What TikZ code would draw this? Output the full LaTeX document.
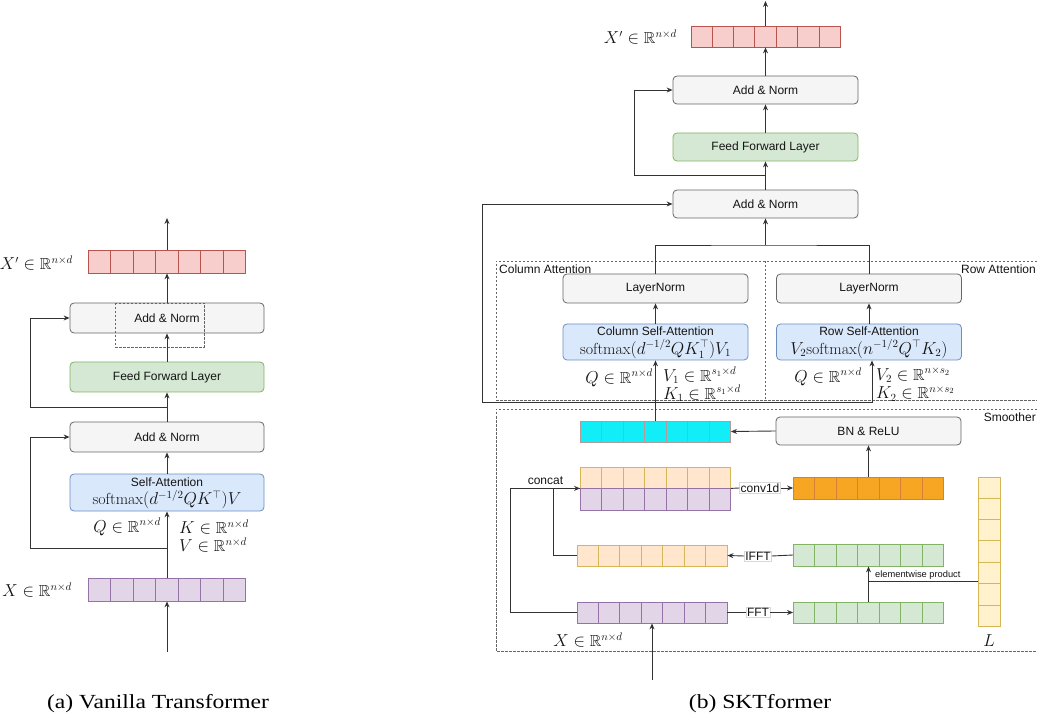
\documentclass[tikz,border=0pt]{standalone}
\usepackage{amsmath,amssymb}
\usepackage{fontspec}
\setsansfont{Liberation Sans}
\newfontfamily\capfont[FakeStretch=1.18]{Liberation Serif}
\usetikzlibrary{arrows.meta,calc}

\definecolor{gfill}{HTML}{F5F5F5}\definecolor{gdraw}{HTML}{666666}
\definecolor{grfill}{HTML}{D5E8D4}\definecolor{grdraw}{HTML}{82B366}
\definecolor{blfill}{HTML}{DAE8FC}\definecolor{bldraw}{HTML}{6C8EBF}
\definecolor{rdfill}{HTML}{F8CECC}\definecolor{rddraw}{HTML}{B85450}
\definecolor{pufill}{HTML}{E1D5E7}\definecolor{pudraw}{HTML}{9673A6}
\definecolor{orfill}{HTML}{FFE6CC}\definecolor{ordraw}{HTML}{D6B656}
\definecolor{cyfill}{HTML}{12EEF8}\definecolor{cydraw}{HTML}{B09A9A}
\definecolor{obfill}{HTML}{F6A623}\definecolor{obdraw}{HTML}{D6803A}
\definecolor{ylfill}{HTML}{FFF2CC}\definecolor{yldraw}{HTML}{D6B656}
\definecolor{lc}{HTML}{333333}
\definecolor{tc}{HTML}{141414}

\newcommand\labfont{\sffamily\fontsize{12}{14}\selectfont}
\newcommand\eqfont{\fontsize{16}{19}\selectfont}
\newcommand\smfont{\sffamily\fontsize{9.3}{11}\selectfont}
\newcommand\hcells[2]{\foreach \i in {1,...,6}{\draw[draw=#2, line width=0.8pt] ($(#1.north west)!\i/7!(#1.north east)$) -- ($(#1.south west)!\i/7!(#1.south east)$);}}
\newcommand\vcells[2]{\foreach \i in {1,...,6}{\draw[draw=#2, line width=0.8pt] ($(#1.north west)!\i/7!(#1.south west)$) -- ($(#1.north east)!\i/7!(#1.south east)$);}}

\tikzset{
  ln/.style={draw=lc, line width=0.9pt},
  arw/.style={ln, -{Stealth[length=6pt,width=5pt]}},
  box/.style={draw=gdraw, fill=gfill, rounded corners=4pt, line width=0.8pt, minimum width=194pt, minimum height=30pt, inner sep=0pt, font=\labfont, text=tc, align=center},
  boxr/.style={box, minimum width=185pt, minimum height=28pt},
  greenb/.style={draw=grdraw, fill=grfill},
  blueb/.style={draw=bldraw, fill=blfill},
  arr/.style={line width=0.8pt, inner sep=0pt, minimum width=150pt, minimum height=21pt},
  lbl/.style={inner sep=0pt, font=\eqfont, text=tc},
  txt/.style={inner sep=0pt, font=\labfont, text=tc},
  tag/.style={draw=gray!30, fill=white, inner sep=1pt, font=\labfont, text=tc},
  dashbox/.style={draw=gdraw, line width=0.8pt, dash pattern=on 2.5pt off 1.5pt},
}

\begin{document}
\begin{tikzpicture}[x=1pt,y=-1pt]
\useasboundingbox (0,0) rectangle (1037,719);

% ================= (a) Vanilla Transformer =================
\node[box] (anA) at (167,318) {Add \& Norm};
\draw[dashbox] (115,303) rectangle (204,347);
\node[box, greenb] (ffA) at (167,377) {Feed Forward Layer};
\node[box] (anB) at (167,437) {Add \& Norm};
\node[box, blueb, minimum height=37pt] (saA) at (167,492.5) {};
\node[txt] (saAt) at (167,482) {Self-Attention};
\node[lbl] (saAm) at (167,499.5) {$\mathrm{softmax}(d^{-1/2}QK^{\top})V$};
\node[arr, fill=rdfill, draw=rddraw, minimum width=157pt, minimum height=23pt] (xpA) at (167,261.5) {};
\hcells{xpA}{rddraw}
\node[arr, fill=pufill, draw=pudraw, minimum width=157pt, minimum height=23pt] (xA) at (167,589.5) {};
\hcells{xA}{pudraw}
\coordinate (topA) at (167,218);
\coordinate (botA) at (167,652);
\draw[arw] (botA) -- (xA.south);
\draw[arw] (xA.north) -- (saA.south);
\draw[arw] (saA.north) -- (anB.south);
\draw[arw] (anB.north) -- (ffA.south);
\draw[arw] (ffA.north) -- (anA.south);
\draw[arw] (anA.north) -- (xpA.south);
\draw[arw] (xpA.north) -- (topA);
\coordinate (jA1) at (167,407); \coordinate (kA1) at (30,407);
\draw[arw] (jA1) -- (kA1) |- (anA.west);
\coordinate (jA2) at (167,548); \coordinate (kA2) at (30,548);
\draw[arw] (jA2) -- (kA2) |- (anB.west);
\node[lbl, anchor=east] (qA) at (161,527) {$Q\in\mathbb{R}^{n\times d}$};
\node[lbl, anchor=west] (kA) at (179,527) {$K\in\mathbb{R}^{n\times d}$};
\node[lbl, anchor=west] (vA) at (179,545) {$V\in\mathbb{R}^{n\times d}$};
\node[lbl, anchor=east] (xpAl) at (73,263) {$X'\in\mathbb{R}^{n\times d}$};
\node[lbl, anchor=east] (xAl) at (72,590) {$X\in\mathbb{R}^{n\times d}$};

% ================= (b) SKTformer =================
\node[arr, fill=rdfill, draw=rddraw, minimum width=149pt] (xpB) at (765.5,36.5) {};
\hcells{xpB}{rddraw}
\coordinate (topB) at (765.5,1);
\node[lbl, anchor=east] (xpBl) at (677,37) {$X'\in\mathbb{R}^{n\times d}$};
\node[boxr] (anC) at (765.5,90) {Add \& Norm};
\node[boxr, greenb] (ffB) at (765.5,147) {Feed Forward Layer};
\node[boxr] (anD) at (765.5,204) {Add \& Norm};
\draw[arw] (anD.north) -- (ffB.south);
\draw[arw] (ffB.north) -- (anC.south);
\draw[arw] (anC.north) -- (xpB.south);
\draw[arw] (xpB.north) -- (topB);
\coordinate (jB1) at (765.5,175); \coordinate (kB1) at (634,175);
\draw[arw] (jB1) -- (kB1) |- (anC.west);

% attention region
\draw[dashbox] (1037,261) -- (496,261) -- (496,400) -- (1037,400);
\draw[dashbox] (765,261) -- (765,400);
\node[txt, anchor=west] (colt) at (499,269) {Column Attention};
\node[txt, anchor=east] (rowt) at (1036,269) {Row Attention};

\node[boxr, minimum height=29pt] (cln) at (655.5,288.5) {LayerNorm};
\node[boxr, blueb, minimum height=36pt] (csa) at (655.5,342) {};
\node[txt] (csat) at (655.5,331) {Column Self-Attention};
\node[lbl] (csam) at (655.5,349) {$\mathrm{softmax}(d^{-1/2}QK_1^{\top})V_1$};
\node[boxr, minimum height=29pt] (rln) at (869,288.5) {LayerNorm};
\node[boxr, blueb, minimum height=36pt] (rsa) at (869,342) {};
\node[txt] (rsat) at (869,331) {Row Self-Attention};
\node[lbl] (rsam) at (869,349) {$V_2\mathrm{softmax}(n^{-1/2}Q^{\top}K_2)$};
\coordinate (sp) at (765.5,245);
\draw[arw] (sp) -- (anD.south);
\draw[ln] (cln.north) |- (sp) -| (rln.north);
\draw[arw] (csa.north) -- (cln.south);
\draw[arw] (rsa.north) -- (rln.south);

\node[lbl, anchor=east] (qC) at (653,378) {$Q\in\mathbb{R}^{n\times d}$};
\node[lbl, anchor=west] (vC) at (663,375.5) {$V_1\in\mathbb{R}^{s_1\times d}$};
\node[lbl, anchor=west] (kC) at (663,393.5) {$K_1\in\mathbb{R}^{s_1\times d}$};
\node[lbl, anchor=east] (qR) at (862,377) {$Q\in\mathbb{R}^{n\times d}$};
\node[lbl, anchor=west] (vR) at (876,375) {$V_2\in\mathbb{R}^{n\times s_2}$};
\node[lbl, anchor=west] (kR) at (876,393.5) {$K_2\in\mathbb{R}^{n\times s_2}$};

% smoother region
\draw[dashbox] (1037,409) -- (496,409) -- (496,651) -- (1037,651);
\node[txt, anchor=east] (smt) at (1036,417) {Smoother};

\node[arr, fill=cyfill, draw=cydraw] (cy) at (655.5,431.5) {};
\hcells{cy}{cydraw}
\node[boxr] (bn) at (868.5,431) {BN \& ReLU};
\draw[arw] (bn.west) -- (cy.east);
\draw[arw] (cy.north) -- (csa.south);
\coordinate (bl) at (482,402); \coordinate (br) at (872,402);
\draw[arw] (bl) -- (br) -- (br |- rsa.south);
\draw[arw] (bl) |- (anD.west);

\node[arr, fill=orfill, draw=ordraw] (cO) at (655.5,477.5) {};
\hcells{cO}{ordraw}
\node[arr, fill=pufill, draw=pudraw, minimum height=22pt] (cP) at (655.5,499) {};
\hcells{cP}{pudraw}
\coordinate (cc) at (cO.south west);
\node[txt] (cct) at (545.5,481) {concat};

\node[arr, fill=obfill, draw=obdraw, minimum height=22pt] (ob) at (868.5,488) {};
\hcells{ob}{obdraw}
\draw[arw] (ob.north) -- (bn.south);
\node[tag] (cv) at (760,488) {conv1d};
\draw[ln] (cO.south east) -- (cv.west);
\draw[arw] (cv.east) -- (ob.west);

\node[arr, fill=orfill, draw=ordraw] (iB) at (652,555.5) {};
\hcells{iB}{ordraw}
\node[arr, fill=grfill, draw=grdraw, minimum height=22pt] (gU) at (868.5,555) {};
\hcells{gU}{grdraw}
\node[tag] (ifft) at (758,556) {IFFT};
\draw[ln] (gU.west) -- (ifft.east);
\draw[arw] (ifft.west) -- (iB.east);

\node[arr, fill=pufill, draw=pudraw] (xB) at (652,612.5) {};
\hcells{xB}{pudraw}
\node[arr, fill=grfill, draw=grdraw] (gL) at (868.5,612.5) {};
\hcells{gL}{grdraw}
\node[tag] (fft) at (758,612.5) {FFT};
\draw[ln] (xB.east) -- (fft.west);
\draw[arw] (fft.east) -- (gL.west);
\draw[arw] (gL.north) -- (gU.south);

\coordinate (k1) at (510,612.5);
\draw[arw] (xB.west) -- (k1) |- (cc);
\coordinate (k2) at (553,555.5);
\draw[ln] (iB.west) -- (k2) |- (cc);

\node[arr, fill=ylfill, draw=yldraw, minimum width=22pt, minimum height=149pt] (Lc) at (989,551.5) {};
\vcells{Lc}{yldraw}
\coordinate (ep) at (868.5,581);
\draw[ln] (Lc.west |- ep) -- (ep);
\node[inner sep=0pt, font=\smfont, text=tc, anchor=west] (ept) at (875,575.5) {elementwise product};
\node[lbl] (Ll) at (989,641) {$L$};

\coordinate (botB) at (652,680);
\draw[arw] (botB) -- (xB.south);
\node[lbl] (xBl) at (588,640) {$X\in\mathbb{R}^{n\times d}$};

% captions
\node[inner sep=0pt, font=\capfont\fontsize{20}{24}\selectfont] (capa) at (158,704) {(a) Vanilla Transformer};
\node[inner sep=0pt, font=\capfont\fontsize{20}{24}\selectfont] (capb) at (760,704) {(b) SKTformer};
\end{tikzpicture}
\end{document}
